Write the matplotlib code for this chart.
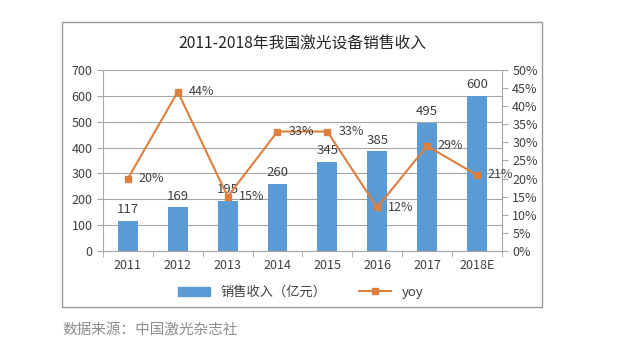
import numpy as np
import matplotlib.pyplot as plt
from matplotlib.patches import Rectangle
from matplotlib.lines import Line2D
from matplotlib.ticker import FixedLocator

plt.rcParams['font.family'] = ['Noto Sans CJK SC', 'DejaVu Sans']

years = ["2011", "2012", "2013", "2014", "2015", "2016", "2017", "2018E"]
revenue = [117, 169, 195, 260, 345, 385, 495, 600]
yoy = [20, 44, 15, 33, 33, 12, 29, 21]

bar_color = "#5B9BD5"
line_color = "#DD7F3E"
grid_color = "#A6A6A6"
text_color = "#404040"

fig = plt.figure(figsize=(6.4, 3.61), dpi=100)
ax = fig.add_axes([0.161, 0.305, 0.623, 0.501])
ax2 = ax.twinx()

x = np.arange(len(years))
ax.bar(x, revenue, width=0.4, color=bar_color, zorder=2)
ax.set_ylim(0, 700)
ax.set_xlim(-0.5, len(years) - 0.5)
ax.set_yticks(range(0, 701, 100))
ax.yaxis.grid(True, color=grid_color, linewidth=0.8, zorder=0)
ax.set_axisbelow(True)
ax.set_xticks(x)
ax.set_xticklabels(years)
ax.xaxis.set_minor_locator(FixedLocator(np.arange(-0.5, len(years), 1)))
ax.tick_params(axis='x', which='major', length=0, pad=6, labelsize=9, colors=text_color)
ax.tick_params(axis='x', which='minor', length=4, direction='out', color=grid_color)
ax.tick_params(axis='y', length=4, direction='out', color=grid_color, labelsize=9, labelcolor=text_color)
for r, v in zip(x, revenue):
    ax.text(r, v + 18, str(v), ha='center', va='bottom', fontsize=9.5, color=text_color, zorder=5)

ax2.plot(x, yoy, color=line_color, marker='s', markersize=5, linewidth=1.5, zorder=3)
ax2.set_ylim(0, 50)
ax2.set_yticks(range(0, 51, 5))
ax2.set_yticklabels([f"{v}%" for v in range(0, 51, 5)])
ax2.tick_params(axis='y', length=4, direction='out', color=grid_color, labelsize=9, labelcolor=text_color)
for r, v in zip(x, yoy):
    ax2.text(r + 0.22, v, f"{v}%", ha='left', va='center', fontsize=9, color=text_color, zorder=5)

for a in (ax, ax2):
    for s in a.spines.values():
        s.set_visible(False)
ax.spines['bottom'].set_visible(True)
ax.spines['bottom'].set_color(grid_color)
ax.spines['left'].set_visible(True)
ax.spines['left'].set_color(grid_color)
ax2.spines['right'].set_visible(True)
ax2.spines['right'].set_color(grid_color)

fig.text(0.473, 0.878, "2011-2018年我国激光设备销售收入", ha='center', va='center',
         fontsize=11.3, color="#262626")

handles = [Rectangle((0, 0), 1, 1, color=bar_color),
           Line2D([], [], color=line_color, marker='s', markersize=5, linewidth=1.5)]
fig.legend(handles, ["销售收入（亿元）", "yoy"], loc='center', bbox_to_anchor=(0.47, 0.19),
           ncol=2, frameon=False, fontsize=9.5, handlelength=2.4, columnspacing=2.5,
           labelcolor=text_color)

fig.patches.append(Rectangle((62 / 640, 1 - 307 / 361), 480 / 640, 285 / 361,
                             transform=fig.transFigure, fill=False,
                             edgecolor="#9A9A9A", linewidth=1.0))

fig.text(62 / 640, 1 - 330 / 361, "数据来源：中国激光杂志社", ha='left', va='center',
         fontsize=10.5, color="#8C8C8C")

fig.savefig("out.png", dpi=100)
